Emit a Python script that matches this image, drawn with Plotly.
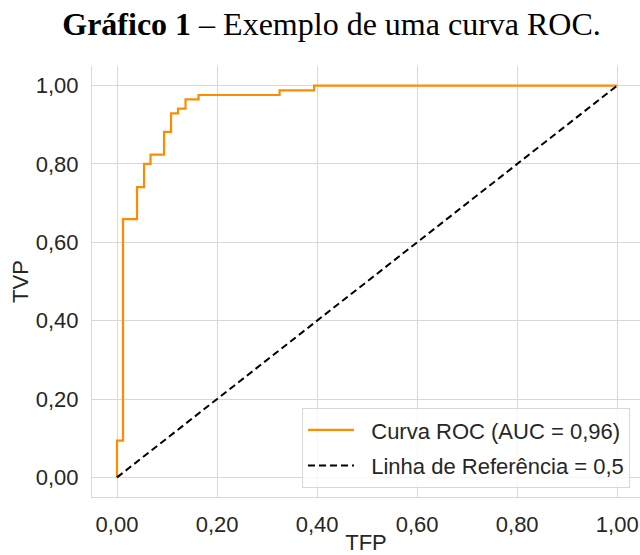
import plotly.graph_objects as go

# ROC curve corner points (false positive rate, true positive rate)
fpr = [0.000, 0.000, 0.012, 0.040, 0.054, 0.067, 0.094, 0.108, 0.122, 0.137, 0.163, 0.325, 0.394, 1.000]
tpr = [0.000, 0.094, 0.659, 0.741, 0.800, 0.824, 0.882, 0.929, 0.941, 0.965, 0.976, 0.988, 1.000, 1.000]
auc = 0.96

# chance (reference) diagonal
ref_x = [0.0, 1.0]
ref_y = [0.0, 1.0]

tick_vals = [0.0, 0.2, 0.4, 0.6, 0.8, 1.0]

SANS = "Liberation Sans, Arial, sans-serif"
TXT = "#262626"
GRID = "#d8d8d8"
PAD = "\u00a0\u00a0"  # extra gap between legend sample and label

fig = go.Figure()
fig.add_trace(go.Scatter(
    x=fpr, y=tpr, mode="lines", line_shape="hv",
    line=dict(color="#ff8c00", width=2.2),
    name=PAD + f"Curva ROC (AUC = {auc:.2f})".replace(".", ","),
    legendgroup="roc",
))
fig.add_trace(go.Scatter(
    x=ref_x, y=ref_y, mode="lines",
    line=dict(color="black", width=2, dash="7px,4px"),
    name=PAD + "Linha de Referência = 0,5",
    legendgroup="ref",
))

fig.update_layout(
    width=640, height=555,
    margin=dict(l=92, r=0, t=66, b=51),
    paper_bgcolor="white", plot_bgcolor="white",
    separators=",.",
    font=dict(family=SANS, size=22, color=TXT),
    title=dict(
        text="<b>Gráfico 1</b> – Exemplo de uma curva ROC.",
        font=dict(family="Liberation Serif, Times New Roman, serif", size=32, color="black"),
        x=0.518, xanchor="center", xref="container",
        y=1 - 24 / 555, yanchor="middle", yref="container",
    ),
    showlegend=True,
    legend=dict(
        x=0.9818, y=0.0205, xanchor="right", yanchor="bottom",
        bgcolor="rgba(255,255,255,0.8)", bordercolor="#d8d8d8", borderwidth=1,
        font=dict(family=SANS, size=22, color=TXT),
        tracegroupgap=4, itemwidth=46,
    ),
)

fig.update_xaxes(
    range=[-0.05, 1.0455], tickvals=tick_vals, tickformat=".2f",
    showgrid=True, gridcolor=GRID, gridwidth=1.2, zeroline=False,
    showline=True, linecolor=GRID, linewidth=1.2, mirror=False,
    ticks="", ticklabelstandoff=7,
    title=dict(text="TFP", standoff=3, font=dict(size=22, color=TXT)),
)
fig.update_yaxes(
    range=[-0.05, 1.05], tickvals=tick_vals, tickformat=".2f",
    showgrid=True, gridcolor=GRID, gridwidth=1.2, zeroline=False,
    showline=True, linecolor=GRID, linewidth=1.2, mirror=False,
    ticks="", ticklabelstandoff=8,
    title=dict(text="TVP", standoff=0, font=dict(size=22, color=TXT)),
)

fig.write_html("out.html")
